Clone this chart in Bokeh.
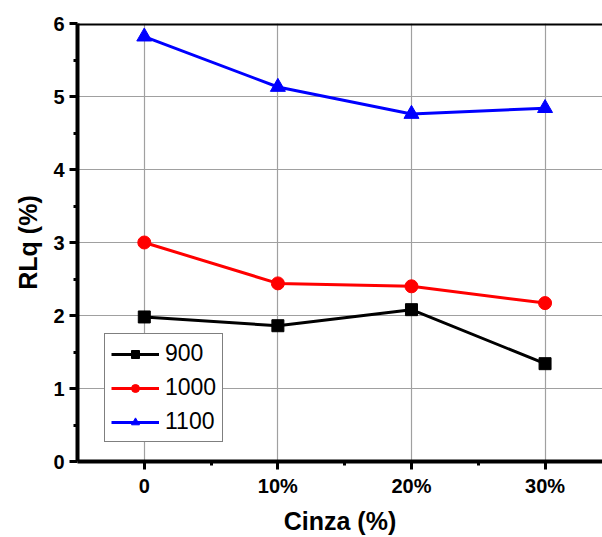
from bokeh.plotting import figure
from bokeh.models import Range1d, FixedTicker, Legend, LegendItem, Span
from bokeh.embed import file_html
from bokeh.resources import INLINE

categories = ["0", "10%", "20%", "30%"]
s900 = [1.98, 1.86, 2.08, 1.34]
s1000 = [3.00, 2.44, 2.40, 2.17]
s1100 = [5.82, 5.13, 4.76, 4.84]
series_names = ["900", "1000", "1100"]
y_ticks = [0, 1, 2, 3, 4, 5, 6]

x = list(range(len(categories)))

p = figure(width=602, height=537, output_backend="svg", toolbar_location=None,
           x_range=Range1d(-0.5, 3.43), y_range=Range1d(0, 6),
           min_border_left=77, min_border_right=0, min_border_top=23, min_border_bottom=74)
p.outline_line_color = None
p.background_fill_color = "white"
p.border_fill_color = "white"

FONT = "Liberation Sans"

for axes in (p.xaxis, p.yaxis):
    axes.axis_line_width = 4
    axes.axis_line_color = "black"
    axes.major_tick_line_width = 3
    axes.minor_tick_line_width = 3
    axes.major_tick_line_color = "black"
    axes.minor_tick_line_color = "black"
    axes.major_tick_out = 8
    axes.major_tick_in = 0
    axes.minor_tick_out = 4
    axes.minor_tick_in = 0
    axes.major_label_text_font = FONT
    axes.major_label_text_font_style = "bold"
    axes.major_label_text_font_size = "20px"
    axes.major_label_text_color = "black"
    axes.axis_label_text_font = FONT
    axes.axis_label_text_font_style = "bold"
    axes.axis_label_text_font_size = "25px"
    axes.axis_label_text_color = "black"

p.xaxis.ticker = FixedTicker(ticks=x, minor_ticks=[i + 0.5 for i in x[:-1]])
p.xaxis.major_label_overrides = {i: c for i, c in zip(x, categories)}
p.xaxis.axis_label = "Cinza (%)"
p.xaxis.major_label_standoff = 5
p.xaxis.axis_label_standoff = 7

p.yaxis.ticker = FixedTicker(ticks=y_ticks, minor_ticks=[v + 0.5 for v in y_ticks[:-1]])
p.yaxis.axis_label = "RLq (%)"
p.yaxis.major_label_standoff = 5
p.yaxis.axis_label_standoff = 8

p.xgrid.ticker = FixedTicker(ticks=x)
p.ygrid.ticker = FixedTicker(ticks=y_ticks)
p.xgrid.grid_line_color = "#a0a0a0"
p.ygrid.grid_line_color = "#a0a0a0"
p.xgrid.grid_line_width = 1.2
p.ygrid.grid_line_width = 1.2

# top frame line
p.add_layout(Span(location=y_ticks[-1], dimension="width", line_color="black", line_width=4))

l1 = p.line(x, s900, line_color="black", line_width=3)
m1 = p.scatter(x, s900, marker="square", size=12, color="black")
l2 = p.line(x, s1000, line_color="#ff0000", line_width=3)
m2 = p.scatter(x, s1000, marker="circle", size=13, color="#ff0000")
l3 = p.line(x, s1100, line_color="#0000ff", line_width=3)
m3 = p.scatter(x, s1100, marker="triangle", size=15, color="#0000ff")

legend = Legend(items=[LegendItem(label=series_names[0], renderers=[l1, m1]),
                       LegendItem(label=series_names[1], renderers=[l2, m2]),
                       LegendItem(label=series_names[2], renderers=[l3, m3])],
                location=(27, 19))
legend.border_line_color = "black"
legend.border_line_width = 1
legend.background_fill_alpha = 1
legend.label_text_font = FONT
legend.label_text_font_size = "23px"
legend.label_text_color = "black"
legend.glyph_width = 48
legend.glyph_height = 20
legend.label_height = 20
legend.spacing = 7
legend.padding = 6
legend.label_standoff = 6
legend.margin = 0
p.add_layout(legend, "center")

open("out.html", "w").write(file_html(p, INLINE))
